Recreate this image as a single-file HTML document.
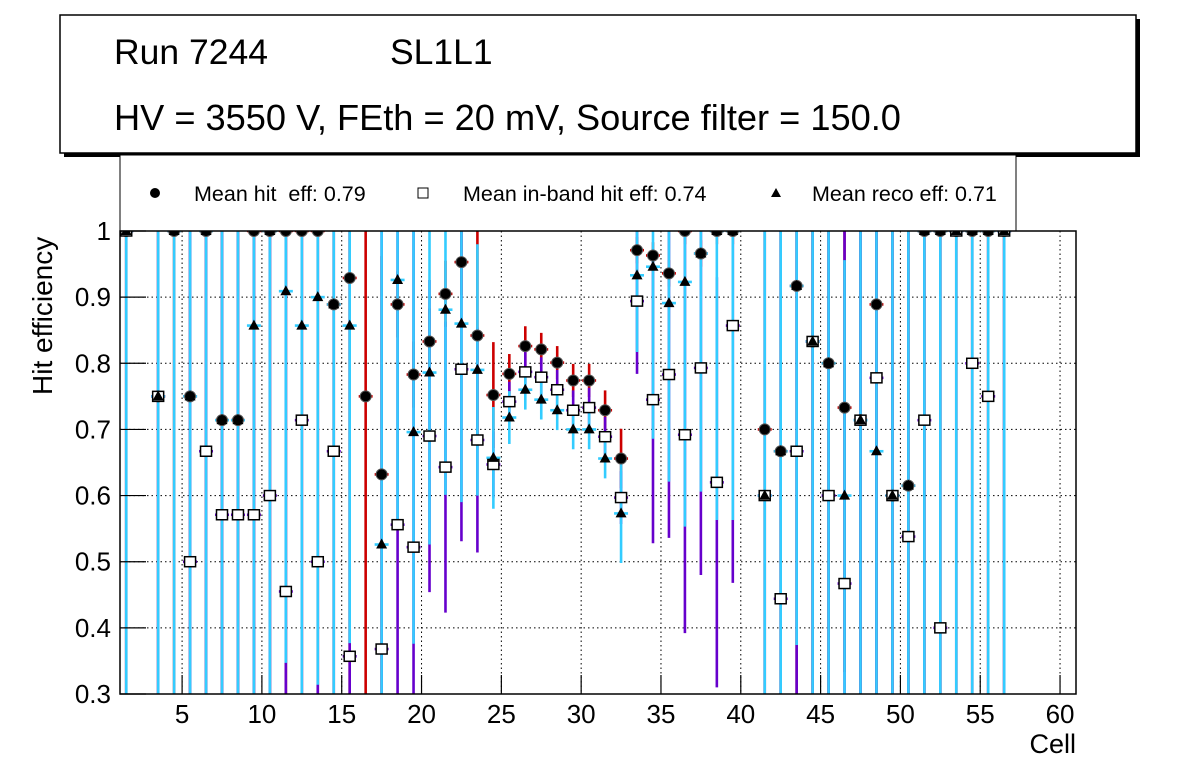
<!DOCTYPE html>
<html><head><meta charset="utf-8"><style>
body{margin:0;background:#fff;width:1196px;height:772px;overflow:hidden;font-family:"Liberation Sans",sans-serif}
svg text{font-family:"Liberation Sans",sans-serif;white-space:pre}
</style></head><body>
<svg id="c" width="1196" height="772" xmlns="http://www.w3.org/2000/svg">
<defs><clipPath id="pc"><rect x="120" y="231" width="956" height="463"/></clipPath></defs>
<rect x="64" y="19" width="1076" height="138" fill="#000"/>
<rect x="60" y="15" width="1076" height="138" fill="#fff" stroke="#000" stroke-width="1.5"/>
<text x="114" y="64" font-size="35.5">Run 7244</text>
<text x="390" y="64" font-size="35.5">SL1L1</text>
<text x="114" y="130" font-size="36.2">HV = 3550 V, FEth = 20 mV, Source filter = 150.0</text>
<rect x="120" y="155" width="896" height="76" fill="#fff" stroke="#000" stroke-width="1"/>
<circle cx="155" cy="193" r="5" fill="#000"/>
<text x="194" y="201" font-size="21.5" xml:space="preserve">Mean hit  eff: 0.79</text>
<rect x="418" y="188" width="10" height="10" fill="#fff" stroke="#000"/>
<text x="463" y="201" font-size="21.5">Mean in-band hit eff: 0.74</text>
<polygon points="776,188 781,197 771,197" fill="#000"/>
<text x="812" y="201" font-size="21.5">Mean reco eff: 0.71</text>
<g id="grid"></g><g id="marks" clip-path="url(#pc)"></g><g id="axes"></g>
<text transform="translate(52,395) rotate(-90)" font-size="28">Hit efficiency</text>
<text x="1076" y="753" font-size="27" text-anchor="end">Cell</text>
</svg>
<script>
const cells=[1.5,3.5,4.5,5.5,6.5,7.5,8.5,9.5,10.5,11.5,12.5,13.5,14.5,15.5,16.5,17.5,18.5,19.5,20.5,21.5,22.5,23.5,24.5,25.5,26.5,27.5,28.5,29.5,30.5,31.5,32.5,33.5,34.5,35.5,36.5,37.5,38.5,39.5,41.5,42.5,43.5,44.5,45.5,46.5,47.5,48.5,49.5,50.5,51.5,52.5,53.5,54.5,55.5,56.5];
const hitEff=[1,0.75,1,0.75,1,0.714,0.714,1,1,1,1,1,0.889,0.929,0.75,0.632,0.889,0.783,0.833,0.905,0.953,0.842,0.752,0.784,0.826,0.821,0.801,0.774,0.774,0.729,0.656,0.971,0.963,0.936,1,0.966,1,1,0.7,0.667,0.917,0.833,0.8,0.733,0.714,0.889,0.6,0.615,1,1,1,1,1,1];
const hitErr=[1,1,1,1,1,1,1,1,1,1,1,1,1,1,0.75,0.33,0.05,0.05,0.05,0.05,0.05,0.16,0.08,0.03,0.03,0.025,0.025,0.025,0.025,0.03,0.045,0.02,0.02,0.02,0.02,0.02,0.02,0.02,1,1,1,1,1,0.4,1,1,1,1,1,1,1,1,1,1];
const inbandEff=[1,0.75,null,0.5,0.667,0.571,0.571,0.571,0.6,0.455,0.714,0.5,0.667,0.357,null,0.368,0.556,0.522,0.69,0.643,0.791,0.684,0.647,0.742,0.787,0.779,0.76,0.729,0.733,0.689,0.597,0.894,0.745,0.783,0.692,0.793,0.62,0.857,0.6,0.444,0.667,0.833,0.6,0.467,0.714,0.778,0.6,0.538,0.714,0.4,1,0.8,0.75,1];
const inbandErr=[1,1,1,1,1,1,1,1,1,1,1,1,1,1,1,1,1,1,0.236,0.22,0.26,0.17,0.05,0.03,0.03,0.03,0.03,0.03,0.03,0.03,0.04,0.11,0.217,0.247,0.3,0.313,0.31,0.389,1,1,0.4,1,1,1,1,1,1,1,1,1,1,1,1,1];
const recoEff=[1,0.75,1,0.75,1,0.714,0.714,0.857,1,0.909,0.857,0.9,0.889,0.857,null,0.526,0.926,0.696,0.786,0.881,0.86,0.79,0.657,0.718,0.76,0.745,0.729,0.7,0.7,0.656,0.573,0.933,0.946,0.891,0.923,0.966,1,1,0.6,0.667,0.917,0.833,0.8,0.6,0.714,0.667,0.6,0.615,1,1,1,1,1,1];
const recoErr=[1,1,1,1,1,1,1,1,1,0.562,1,0.586,1,0.48,0,1,0.37,0.32,0.26,0.28,0.27,0.19,0.077,0.04,0.03,0.03,0.03,0.03,0.03,0.03,0.075,0.116,0.26,0.27,0.37,0.36,0.437,0.437,1,1,0.543,1,1,0.356,1,1,1,1,1,1,1,1,1,1];
const xTicks=[5,10,15,20,25,30,35,40,45,50,55,60];
const yTicks=[0.3,0.4,0.5,0.6,0.7,0.8,0.9,1];
const X0=120,X1=1076,Y0=231,Y1=694,XMIN=1.11,XMAX=61,YMIN=0.3,YMAX=1;
const xs=v=>X0+(v-XMIN)/(XMAX-XMIN)*(X1-X0);
const ys=v=>Y1-(v-YMIN)/(YMAX-YMIN)*(Y1-Y0);
const cy=v=>Math.max(Y0,Math.min(Y1,ys(v)));
const NS='http://www.w3.org/2000/svg';
function mk(tag,parent,attrs){const e=document.createElementNS(NS,tag);for(const k in attrs)e.setAttribute(k,attrs[k]);parent.appendChild(e);return e;}
const grid=document.getElementById('grid'),marks=document.getElementById('marks'),axes=document.getElementById('axes');
yTicks.forEach(t=>{
 const g=mk('line',grid,{x1:X0,x2:X1,y1:ys(t),y2:ys(t),stroke:'#000','stroke-dasharray':'1.5,3','stroke-width':1});
 
 
 const tk=mk('line',axes,{x1:X0,x2:X0+26,y1:ys(t),y2:ys(t),stroke:'#000','stroke-width':1.2});
 
 
 const lb=mk('text',axes,{x:111,y:ys(t)+9,'font-size':26,'text-anchor':'end'});lb.textContent=(t===1?'1':t.toFixed(1));
 
 
});
xTicks.forEach(t=>{
 const g=mk('line',grid,{x1:xs(t),x2:xs(t),y1:Y0,y2:Y1,stroke:'#000','stroke-dasharray':'1.5,3','stroke-width':1});
 
 
 const tk=mk('line',axes,{x1:xs(t),x2:xs(t),y1:Y1,y2:Y1-19,stroke:'#000','stroke-width':1.2});
 
 
 const lb=mk('text',axes,{x:xs(t),y:Y1+29,'font-size':26,'text-anchor':'middle'});lb.textContent=t;
 
 
});
const fr=mk('rect',axes,{x:X0,y:Y0,width:X1-X0,height:Y1-Y0,fill:'none',stroke:'#000','stroke-width':1.5});


const hw=(xs(2)-xs(1))/2;
function errs(vals,errv,color,name){
 cells.forEach((c,i)=>{const v=vals[i];if(v===null)return;const e=errv[i];
  const l=mk('line',marks,{x1:xs(c),x2:xs(c),y1:cy(v+e),y2:cy(v-e),stroke:color,'stroke-width':2.6});
  
  
  if(v<=1&&v>=YMIN){const h=mk('line',marks,{x1:xs(c)-hw+1,x2:xs(c)+hw-1,y1:ys(v),y2:ys(v),stroke:color,'stroke-width':2.6});
  
  }
 });
}
errs(hitEff,hitErr,'#cc0000','hit');
errs(inbandEff,inbandErr,'#6600cc','inband');
errs(recoEff,recoErr,'#33ccff','reco');
cells.forEach((c,i)=>{const v=hitEff[i];if(v===null||v<YMIN)return;
 const m=mk('circle',marks,{cx:xs(c),cy:ys(v),r:5.5,fill:'#000',stroke:'#555','stroke-width':1});
 
 });
cells.forEach((c,i)=>{const v=inbandEff[i];if(v===null||v<YMIN)return;
 const m=mk('rect',marks,{x:xs(c)-5.5,y:ys(v)-5,width:11,height:10,fill:'#fff',stroke:'#000','stroke-width':1.5});
 
 });
cells.forEach((c,i)=>{const v=recoEff[i];if(v===null||v<YMIN)return;const x=xs(c),y=ys(v);
 const m=mk('polygon',marks,{points:`${x},${y-6} ${x+5.5},${y+4} ${x-5.5},${y+4}`,fill:'#000'});
 
 });
</script>
</body></html>
